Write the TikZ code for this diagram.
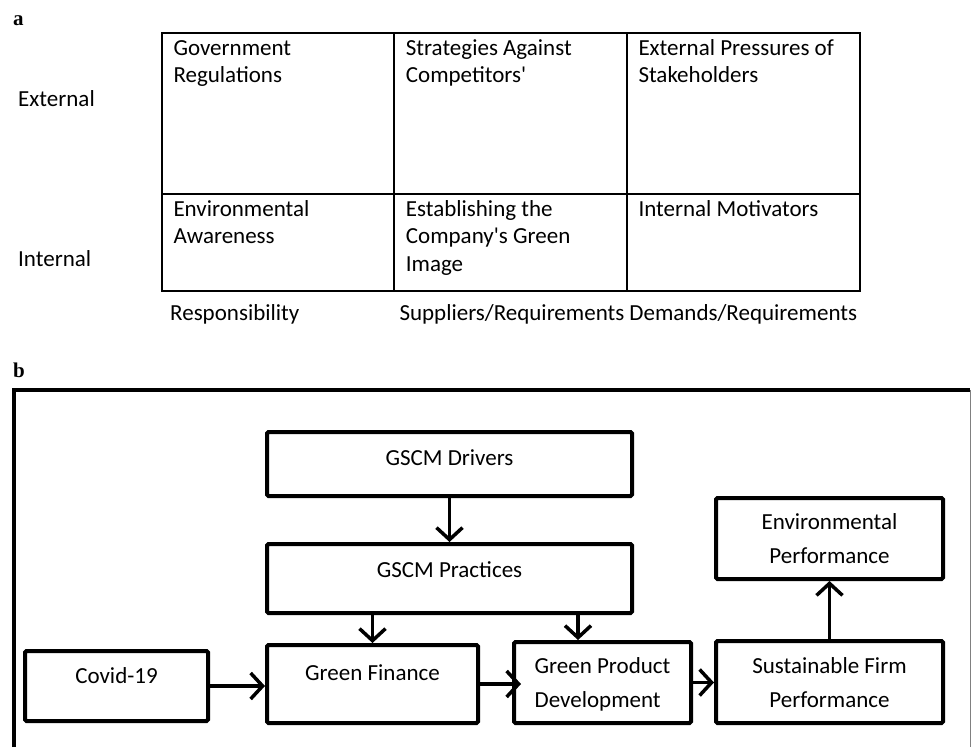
\documentclass[tikz,border=0pt]{standalone}
\usepackage{fontspec}
\setmainfont{Carlito}
\newfontfamily\panelfont{Liberation Serif}
\usetikzlibrary{arrows.meta}
\begin{document}
\begin{tikzpicture}[x=1pt,y=-1pt,
  cell/.style={anchor=north west, inner sep=0pt, align=left, font=\fontsize{23}{27.5}\selectfont},
  lbl/.style={anchor=base west, inner sep=0pt, font=\fontsize{23}{27.5}\selectfont},
  panel/.style={anchor=base west, inner sep=0pt, font=\panelfont\bfseries\fontsize{21}{24}\selectfont},
  grid/.style={line width=1.6pt},
  box/.style={draw, line width=4pt, rounded corners=1.5pt, inner sep=0pt, font=\fontsize{23}{34}\selectfont},
  conn/.style={line width=3.5pt, -{Straight Barb[length=12pt,width=26pt]}},
]
\useasboundingbox (0,0) rectangle (971,747);

% ---------- panel a ----------
\node[panel] (pa) at (13,25) {a};
\draw[grid] (161.7,33) rectangle (860,290.7);
\draw[grid] (161.7,193.7) -- (860,193.7);
\draw[grid] (393.7,33) -- (393.7,290.7);
\draw[grid] (626.7,33) -- (626.7,290.7);

\node[lbl] (ext) at (18,106) {External};
\node[lbl] (int) at (18,266) {Internal};

\node[cell] (c11) at (173.3,35.75) {\strut Government\\\strut Regulations};
\node[cell] (c12) at (405.7,35.75) {\strut Strategies Against\\\strut Competitors\textquotesingle};
\node[cell] (c13) at (638.3,35.75) {\strut External Pressures of\\\strut Stakeholders};
\node[cell] (c21) at (173.3,196.75) {\strut Environmental\\\strut Awareness};
\node[cell] (c22) at (405.7,196.75) {\strut Establishing the\\\strut Company\textquotesingle s Green\\\strut Image};
\node[cell] (c23) at (638.3,196.75) {\strut Internal Motivators};

\node[lbl] (resp) at (170,320) {Responsibility};
\node[lbl] (sup) at (399.3,320) {Suppliers/Requirements Demands/Requirements};

% ---------- panel b ----------
\node[panel] (pb) at (13,377) {b};
\draw[line width=3.5pt] (14,747) -- (14,390) -- (970,390);
\draw[gray, line width=1pt] (970.4,390) -- (970.4,747);

\node[box, minimum width=365pt, minimum height=64pt, text height=16pt, text depth=14pt] (gd) at (449.5,464) {GSCM Drivers};
\node[box, minimum width=365pt, minimum height=69pt, text height=16pt, text depth=19pt] (gp) at (449.5,578.5) {GSCM Practices};
\node[box, minimum width=211pt, minimum height=78pt, text height=16pt, text depth=24pt] (gf) at (372.5,684) {Green Finance};
\node[box, minimum width=183pt, minimum height=70pt, text height=16pt, text depth=22pt] (cv) at (116.5,686) {Covid-19};
\node[box, minimum width=177pt, minimum height=81pt, text height=50pt, text depth=1pt, align=left] (gpd) at (602.5,682.5) {Green Product\\Development};
\node[box, minimum width=227pt, minimum height=82pt, text height=50pt, text depth=0pt, align=center] (sfp) at (829.5,682) {Sustainable Firm\\Performance};
\node[box, minimum width=227pt, minimum height=81pt, text height=50pt, text depth=1pt, align=center] (ep) at (829.5,538.5) {Environmental\\Performance};

\draw[conn] (gd.south) -- (gp.north);
\draw[conn] (gp.south -| gf.north) -- (gf.north);
\draw[conn] ([xshift=-24.5pt]gpd.north |- gp.south) -- ([xshift=-24.5pt]gpd.north);
\draw[conn] (cv.east) -- (cv.east -| gf.west);
\draw[conn, shorten >=-9pt] (gf.east) -- (gf.east -| gpd.west);
\draw[conn] (gpd.east) -- (gpd.east -| sfp.west);
\draw[conn] (sfp.north) -- (ep.south);
\end{tikzpicture}
\end{document}
